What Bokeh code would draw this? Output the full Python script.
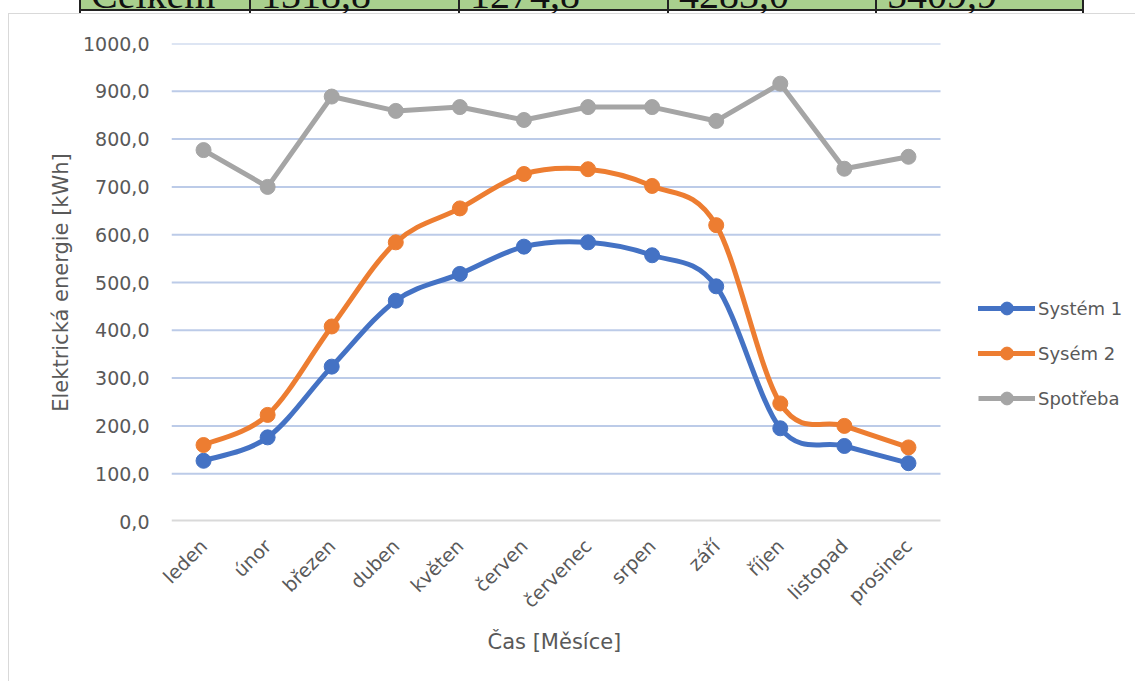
import math
from bokeh.plotting import figure
from bokeh.models import (Range1d, FixedTicker, Legend, LegendItem, ColumnDataSource,
                          Div, Title)
from bokeh.layouts import column
from bokeh.embed import file_html
from bokeh.resources import INLINE

# ---------------- data ----------------
months = ["leden", "únor", "březen", "duben", "květen", "červen",
          "červenec", "srpen", "září", "říjen", "listopad", "prosinec"]
system1 = [127, 176, 324, 462, 518, 575, 584, 557, 492, 195, 158, 122]
system2 = [160, 223, 408, 584, 655, 727, 737, 702, 620, 247, 200, 155]
spotreba = [777, 700, 889, 859, 867, 840, 867, 867, 838, 916, 738, 763]
series_names = ["Systém 1", "Sysém 2", "Spotřeba"]
y_ticks = [0, 100, 200, 300, 400, 500, 600, 700, 800, 900, 1000]
y_tick_labels = ["0,0", "100,0", "200,0", "300,0", "400,0", "500,0",
                 "600,0", "700,0", "800,0", "900,0", "1000,0"]
x_title = "Čas [Měsíce]"
y_title = "Elektrická energie [kWh]"
# last row of the (cropped) table above the chart
table_row = ["Celkem", "1318,8", "1274,8", "4283,0", "5409,9"]

# ---------------- style / layout ----------------
FONT = "DejaVu Sans"
TXT = "#595959"
C_BLUE = "#4472c4"
C_ORANGE = "#ed7d31"
C_GRAY = "#a5a5a5"
GRID = "#bccbe8"
AXIS = "#d9d9d9"

W, H = 1127, 668
LEFT, TOP, BOTTOM = 162, 29, 161
PLOT_W = 769                      # width of the category area in px
FRAME_W = W - LEFT                # frame reaches to the right edge (legend lives there)

n = len(months)
xs = list(range(n))
x_lo, x_hi = -0.5, n - 0.5
x_end = x_lo + (x_hi - x_lo) * FRAME_W / PLOT_W


def smooth_source(x, y, t=1.0 / 6.0):
    """Excel-like smoothed line: cubic Bezier segments (Catmull-Rom)."""
    m = len(x)
    d = dict(x0=[], y0=[], x1=[], y1=[], cx0=[], cy0=[], cx1=[], cy1=[])
    for i in range(m - 1):
        a = max(i - 1, 0)
        b = min(i + 2, m - 1)
        d["x0"].append(x[i]); d["y0"].append(y[i])
        d["x1"].append(x[i + 1]); d["y1"].append(y[i + 1])
        d["cx0"].append(x[i] + (x[i + 1] - x[a]) * t)
        d["cy0"].append(y[i] + (y[i + 1] - y[a]) * t)
        d["cx1"].append(x[i + 1] - (x[b] - x[i]) * t)
        d["cy1"].append(y[i + 1] - (y[b] - y[i]) * t)
    return ColumnDataSource(d)


p = figure(width=W, height=H, output_backend="svg", toolbar_location=None,
           x_range=Range1d(x_lo, x_end), y_range=Range1d(0, 1000),
           min_border_left=LEFT, min_border_right=0, min_border_top=TOP,
           min_border_bottom=BOTTOM)
p.outline_line_color = None
p.background_fill_color = "white"
p.border_fill_color = "white"
p.margin = (0, 0, 0, 8)
p.styles = {"border-left": "1px solid #d9d9d9", "border-top": "1px solid #d9d9d9"}

# axes
p.xaxis.ticker = FixedTicker(ticks=xs)
p.xaxis.major_label_overrides = {i: m for i, m in zip(xs, months)}
p.xaxis.major_label_orientation = math.pi / 4
p.yaxis.ticker = FixedTicker(ticks=y_ticks)
p.yaxis.major_label_overrides = {v: s for v, s in zip(y_ticks, y_tick_labels)}
for ax in (p.xaxis, p.yaxis):
    ax.major_tick_line_color = None
    ax.minor_tick_line_color = None
    ax.major_tick_out = 0
    ax.major_tick_in = 0
    ax.axis_line_color = None
    ax.major_label_text_font = FONT
    ax.major_label_text_font_size = "19px"
    ax.major_label_text_color = TXT
    ax.axis_label_text_font = FONT
    ax.axis_label_text_font_size = "21px"
    ax.axis_label_text_color = TXT
    ax.axis_label_text_font_style = "normal"
p.yaxis.major_label_standoff = 22
p.xaxis.major_label_standoff = 21
p.yaxis.axis_label = y_title
p.yaxis.axis_label_standoff = 7

xt = Title(text=x_title, align="left", offset=316, text_font=FONT,
           text_font_size="21px", text_font_style="normal", text_color=TXT,
           standoff=11)
p.add_layout(xt, "below")

# gridlines and category axis line limited to the category area
p.xgrid.grid_line_color = None
p.ygrid.grid_line_color = None
grid_vals = y_ticks[1:]
p.segment(x0=[x_lo] * len(grid_vals), x1=[x_hi] * len(grid_vals),
          y0=grid_vals, y1=grid_vals, line_color=GRID, line_width=2)
p.segment(x0=[x_lo], x1=[x_hi], y0=[y_ticks[0]], y1=[y_ticks[0]],
          line_color=AXIS, line_width=4)

# series
items = []
for name, vals, col, smooth in ((series_names[0], system1, C_BLUE, True),
                                (series_names[1], system2, C_ORANGE, True),
                                (series_names[2], spotreba, C_GRAY, False)):
    if smooth:
        lr = p.bezier(x0="x0", y0="y0", x1="x1", y1="y1", cx0="cx0", cy0="cy0",
                      cx1="cx1", cy1="cy1", source=smooth_source(xs, vals),
                      line_color=col, line_width=5, line_cap="round")
    else:
        lr = p.line(xs, vals, line_color=col, line_width=5, line_join="round")
    sr = p.scatter(xs, vals, size=15, fill_color=col, line_color=col)
    items.append(LegendItem(label=name, renderers=[lr, sr]))

legend = Legend(items=items, location=(PLOT_W + 38, 107), orientation="vertical")
legend.border_line_color = None
legend.background_fill_alpha = 0
legend.padding = 0
legend.margin = 0
legend.glyph_width = 57
legend.glyph_height = 32
legend.label_height = 32
legend.spacing = 13
legend.label_standoff = 3
legend.label_text_font = FONT
legend.label_text_font_size = "18px"
legend.label_text_color = TXT
legend.label_text_baseline = "middle"
p.add_layout(legend, "center")

# thin strip of the table above the chart (cropped in the source image)
table_edges = [80, 250, 459, 668, 876, 1083]
cells = []
for e in table_edges:
    cells.append(f'<div style="position:absolute;left:{e - 1}px;top:0;width:2px;'
                 f'height:13px;background:#222;"></div>')
for e, txt in zip(table_edges[:-1], table_row):
    cells.append(f'<div style="position:absolute;left:{e + 11}px;top:-25px;'
                 f'font-family:\'Liberation Serif\';font-size:40px;line-height:40px;'
                 f'color:#111;white-space:nowrap;">{txt}</div>')
strip_html = (
    '<div style="position:relative;width:1138px;height:13px;overflow:hidden;margin:0;">'
    f'<div style="position:absolute;left:{table_edges[0]}px;top:0;'
    f'width:{table_edges[-1] - table_edges[0]}px;height:11px;background:#a9d08e;'
    'border-bottom:2px solid #222;"></div>'
    + "".join(cells) + '</div>'
)
strip = Div(text=strip_html, width=1138, height=13, margin=0)

layout = column(strip, p, spacing=0)
open("out.html", "w").write(file_html(layout, INLINE))
